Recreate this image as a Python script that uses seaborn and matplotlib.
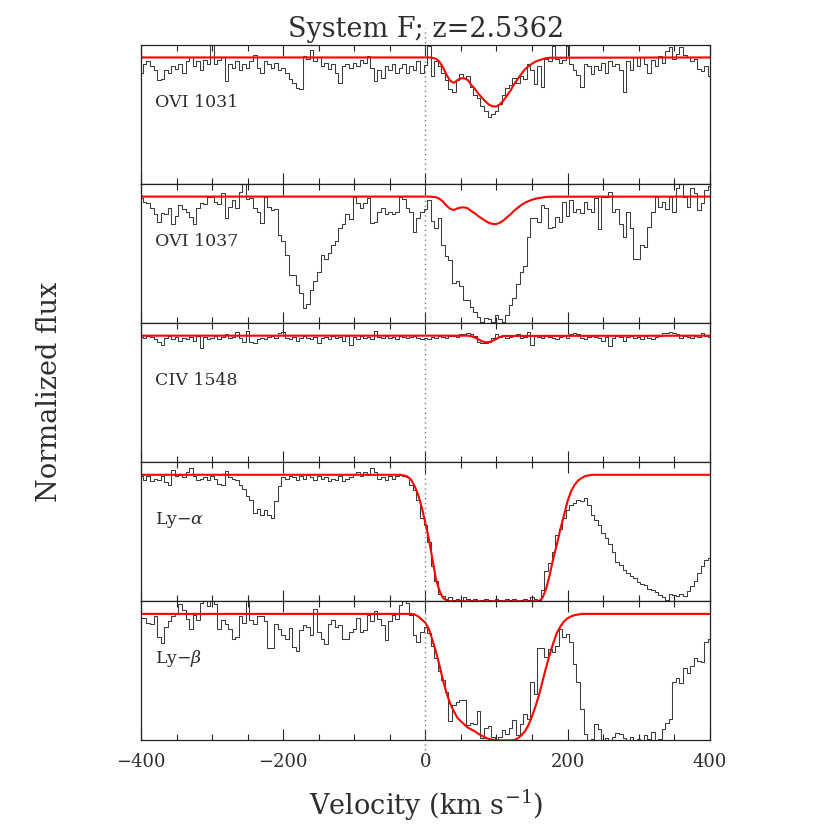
import numpy as np
import matplotlib
matplotlib.use('Agg')
import matplotlib.pyplot as plt
from matplotlib.ticker import MultipleLocator
import seaborn as sns

# velocity grid of the spectra (km/s), one pixel every 5 km/s
velocity = np.arange(-400, 401, 5)

# normalized flux per line (rows of 100 km/s)
ovi1031_flux = [
    0.88, 0.95, 0.97, 0.93, 0.90, 0.82, 0.83, 0.90, 0.88, 0.93, 0.91, 0.95, 0.88, 0.97, 1.00, 0.93, 0.97, 0.90, 0.98, 0.95,
    1.10, 0.95, 0.98, 1.00, 0.81, 0.95, 0.92, 0.97, 0.90, 0.95, 0.92, 0.97, 1.02, 0.92, 0.88, 0.97, 0.95, 0.92, 0.96, 0.90,
    0.92, 0.88, 0.83, 0.80, 0.76, 0.75, 1.01, 0.99, 1.06, 0.97, 1.00, 0.93, 0.96, 0.91, 0.95, 0.88, 0.80, 0.93, 0.95, 0.92,
    0.96, 0.93, 0.98, 0.96, 1.01, 0.92, 0.81, 0.90, 0.84, 0.93, 0.90, 0.95, 0.88, 0.92, 0.95, 0.88, 0.93, 0.90, 0.97, 0.88,
    0.94, 1.09, 0.85, 0.97, 0.93, 0.88, 0.82, 0.75, 0.73, 0.82, 0.87, 0.84, 0.85, 0.77, 0.70, 0.68, 0.62, 0.58, 0.53, 0.55,
    0.58, 0.63, 0.70, 0.76, 0.78, 0.84, 0.80, 0.85, 0.83, 0.95, 0.90, 0.79, 0.93, 0.77, 0.99, 0.97, 1.09, 0.99, 0.96, 0.98,
    1.09, 0.95, 0.90, 0.86, 0.77, 0.95, 0.93, 0.87, 0.93, 0.90, 0.96, 0.88, 0.97, 0.93, 0.95, 0.90, 0.73, 0.97, 0.90, 1.00,
    0.93, 1.00, 0.95, 0.88, 0.98, 0.93, 1.01, 0.96, 1.05, 1.08, 0.99, 1.03, 1.08, 1.02, 1.00, 0.97, 0.99, 0.91, 0.89, 0.93,
    0.85]

ovi1037_flux = [
    0.99, 0.96, 0.95, 0.91, 0.86, 0.80, 0.87, 0.86, 0.91, 0.78, 0.85, 0.93, 0.90, 0.88, 0.84, 0.78, 0.91, 0.95, 0.94, 1.00,
    1.00, 0.96, 0.94, 1.03, 0.83, 0.92, 0.97, 0.91, 1.04, 1.10, 0.98, 0.99, 0.91, 0.88, 0.79, 1.00, 0.92, 0.89, 0.90, 0.70,
    0.645, 0.54, 0.38, 0.38, 0.30, 0.24, 0.12, 0.15, 0.26, 0.33, 0.40, 0.54, 0.51, 0.55, 0.62, 0.645, 0.75, 0.78, 0.86, 0.82,
    1.00, 0.95, 0.91, 0.95, 0.99, 0.79, 0.80, 0.88, 0.91, 0.86, 0.88, 0.86, 0.88, 1.00, 0.98, 0.91, 0.88, 0.72, 0.83, 0.88,
    0.90, 0.97, 0.81, 0.75, 0.83, 0.62, 0.53, 0.50, 0.315, 0.33, 0.29, 0.18, 0.18, 0.13, 0.09, 0.05, 0.01, 0.04, 0.03, 0.01,
    0.06, 0.03, 0.01, 0.06, 0.14, 0.20, 0.31, 0.40, 0.45, 0.68, 0.83, 0.83, 0.80, 0.93, 0.91, 0.75, 0.76, 0.84, 0.80, 0.96,
    0.85, 0.975, 0.88, 0.90, 0.87, 0.96, 0.90, 0.88, 0.99, 0.74, 1.00, 1.00, 1.04, 0.88, 0.90, 0.78, 0.68, 0.88, 0.75, 0.51,
    0.51, 0.62, 0.60, 0.76, 0.88, 1.00, 0.92, 0.96, 0.90, 1.00, 0.88, 1.07, 1.10, 1.00, 0.92, 1.07, 1.03, 0.89, 0.95, 1.05,
    1.08]

civ1548_flux = [
    0.99, 0.98, 1.00, 0.99, 0.97, 0.95, 0.93, 0.98, 1.00, 0.97, 0.99, 0.96, 0.98, 0.97, 0.99, 0.96, 1.00, 0.90, 0.99, 0.97,
    0.98, 1.00, 0.97, 0.99, 1.01, 0.98, 0.99, 1.03, 0.98, 0.95, 1.04, 0.95, 0.94, 0.97, 0.98, 0.97, 0.99, 1.00, 0.98, 1.02,
    1.03, 0.98, 0.97, 0.99, 0.96, 0.98, 1.00, 0.98, 0.97, 0.99, 0.94, 0.98, 0.99, 0.97, 1.00, 0.98, 0.99, 0.96, 1.00, 0.93,
    0.99, 0.97, 1.00, 0.98, 0.99, 0.97, 1.04, 0.99, 0.98, 1.00, 0.98, 0.99, 0.97, 1.00, 0.99, 0.98, 0.99, 1.00, 0.98, 0.97,
    0.98, 0.97, 0.99, 0.98, 1.00, 0.99, 0.98, 1.00, 1.00, 0.99, 1.01, 1.01, 1.02, 1.01, 1.00, 0.95, 0.94, 0.94, 0.95, 0.98,
    1.01, 0.99, 1.00, 0.98, 0.99, 1.00, 1.01, 0.98, 0.99, 1.03, 0.93, 1.00, 0.99, 0.98, 1.00, 0.99, 0.98, 0.97, 0.99, 1.00,
    0.98, 1.01, 1.02, 1.01, 0.98, 0.97, 0.99, 1.00, 0.99, 0.98, 0.96, 0.99, 0.92, 0.98, 1.00, 0.99, 0.96, 0.99, 1.00, 0.98,
    0.99, 0.97, 1.00, 0.98, 0.97, 0.99, 1.00, 1.02, 1.02, 1.03, 1.02, 1.01, 0.98, 1.00, 0.99, 0.98, 1.00, 0.99, 1.02, 1.00,
    0.99]

lya_flux = [
    0.99, 0.96, 0.99, 0.95, 0.97, 0.96, 0.99, 0.94, 0.92, 1.04, 0.99, 1.00, 0.98, 1.02, 1.05, 0.99, 0.96, 0.97, 0.98, 0.96,
    0.99, 0.97, 0.93, 0.92, 1.03, 0.98, 0.97, 0.96, 0.92, 0.89, 0.83, 0.80, 0.70, 0.73, 0.68, 0.72, 0.68, 0.66, 0.79, 0.91,
    0.98, 0.97, 0.99, 0.98, 0.96, 0.99, 0.97, 1.00, 0.98, 0.96, 0.99, 0.97, 0.98, 0.95, 0.97, 0.96, 0.99, 0.95, 0.97, 0.98,
    1.01, 1.02, 0.99, 1.02, 1.00, 1.05, 1.02, 0.97, 0.98, 0.96, 0.99, 0.97, 0.99, 1.00, 0.99, 0.98, 0.92, 0.88, 0.80, 0.66,
    0.60, 0.47, 0.28, 0.16, 0.06, 0.04, 0.02, 0.03, 0.01, 0.02, 0.01, 0.03, 0.02, 0.01, 0.02, 0.00, 0.01, 0.02, 0.01, 0.00,
    0.02, 0.01, 0.00, 0.02, 0.01, 0.02, 0.00, 0.01, 0.02, 0.01, 0.03, 0.02, 0.01, 0.09, 0.24, 0.30, 0.39, 0.52, 0.57, 0.66,
    0.72, 0.76, 0.78, 0.80, 0.79, 0.82, 0.76, 0.68, 0.64, 0.60, 0.54, 0.50, 0.45, 0.39, 0.31, 0.29, 0.25, 0.22, 0.20, 0.18,
    0.15, 0.14, 0.13, 0.10, 0.09, 0.07, 0.05, 0.03, 0.01, 0.06, 0.05, 0.04, 0.06, 0.04, 0.08, 0.12, 0.16, 0.22, 0.28, 0.33,
    0.34]

lyb_flux = [
    0.97, 0.97, 0.93, 0.92, 0.98, 0.82, 0.77, 0.90, 0.94, 0.98, 1.00, 1.08, 1.03, 0.96, 0.88, 0.99, 0.95, 1.09, 1.10, 1.06,
    1.10, 1.08, 0.88, 0.95, 0.92, 0.88, 0.80, 0.82, 0.98, 0.93, 1.10, 0.95, 0.92, 0.98, 0.98, 0.94, 0.73, 0.73, 0.92, 0.88,
    0.83, 0.80, 0.89, 0.74, 0.71, 0.87, 0.91, 0.90, 0.83, 1.04, 0.86, 0.80, 0.76, 0.92, 0.95, 0.90, 0.91, 0.80, 0.80, 0.86,
    0.88, 0.97, 0.86, 0.87, 0.99, 0.94, 1.02, 0.96, 0.91, 0.79, 0.94, 0.99, 0.96, 1.07, 1.10, 1.09, 0.99, 0.83, 0.78, 0.86,
    0.90, 0.85, 0.75, 0.65, 0.55, 0.48, 0.38, 0.15, 0.28, 0.30, 0.32, 0.32, 0.12, 0.14, 0.13, 0.23, 0.02, 0.10, 0.11, 0.03,
    0.00, 0.03, 0.08, 0.05, 0.10, 0.16, 0.04, 0.13, 0.21, 0.17, 0.46, 0.37, 0.73, 0.73, 0.66, 0.72, 0.70, 0.75, 0.88, 0.82,
    0.84, 0.78, 0.60, 0.46, 0.25, 0.05, 0.00, 0.01, 0.13, 0.09, 0.00, 0.02, 0.00, 0.03, 0.06, 0.05, 0.02, 0.00, 0.03, 0.00,
    0.01, 0.00, 0.04, 0.01, 0.07, 0.00, 0.01, 0.09, 0.14, 0.17, 0.46, 0.49, 0.45, 0.57, 0.53, 0.59, 0.65, 0.63, 0.62, 0.78,
    0.80]

# fitted model profiles (velocity knots, flux)
ovi_model_v = [-400, 5, 10, 15, 20, 25, 30, 35, 40, 45, 50, 55, 60, 65, 70, 75, 80, 85, 90, 95,
               100, 105, 110, 115, 120, 125, 130, 135, 140, 145, 150, 155, 160, 165, 170, 175, 400]
ovi1031_model = [1.0, 1.0, 0.997, 0.99, 0.965, 0.92, 0.86, 0.815, 0.80, 0.82, 0.835, 0.835, 0.82, 0.78, 0.75, 0.71,
                 0.68, 0.65, 0.625, 0.613, 0.613, 0.63, 0.66, 0.70, 0.74, 0.79, 0.83, 0.87, 0.905, 0.93, 0.95, 0.967,
                 0.978, 0.987, 0.994, 0.998, 1.0]
ovi1037_model = [1.0, 1.0, 0.998, 0.995, 0.982, 0.959, 0.927, 0.903, 0.894, 0.906, 0.914, 0.914, 0.906, 0.883, 0.866,
                 0.843, 0.825, 0.806, 0.791, 0.783, 0.783, 0.794, 0.812, 0.837, 0.860, 0.889, 0.911, 0.933, 0.951,
                 0.964, 0.975, 0.983, 0.989, 0.993, 0.997, 0.999, 1.0]

civ_model_v = [-400, 60, 65, 70, 75, 80, 85, 90, 95, 100, 105, 110, 400]
civ1548_model = [1.0, 1.0, 0.995, 0.985, 0.97, 0.955, 0.948, 0.95, 0.96, 0.975, 0.99, 0.998, 1.0]

lya_model_v = [-400, -35, -30, -25, -20, -15, -10, -5, 0, 5, 10, 15, 20, 25, 30, 35,
               160, 165, 170, 175, 180, 185, 190, 195, 200, 205, 210, 215, 220, 225, 230, 235, 400]
lya_model = [1.0, 1.0, 0.995, 0.985, 0.96, 0.91, 0.84, 0.74, 0.62, 0.49, 0.33, 0.17, 0.08, 0.025, 0.007, 0.0,
             0.0, 0.03, 0.10, 0.21, 0.34, 0.45, 0.57, 0.68, 0.79, 0.87, 0.92, 0.955, 0.975, 0.99, 0.995, 1.0, 1.0]

lyb_model_v = [-400, -20, -15, -10, -5, 0, 5, 10, 15, 20, 25, 30, 35, 40, 45, 50, 55, 60, 65, 70, 75, 80, 85, 90, 95,
               100, 120, 125, 130, 135, 140, 145, 150, 155, 160, 165, 170, 175, 180, 185, 190, 195, 200, 205, 210,
               215, 220, 400]
lyb_model = [1.0, 1.0, 0.995, 0.98, 0.955, 0.93, 0.88, 0.79, 0.70, 0.59, 0.47, 0.37, 0.29, 0.23, 0.18, 0.15, 0.125,
             0.10, 0.085, 0.07, 0.05, 0.035, 0.02, 0.01, 0.005, 0.0, 0.0, 0.003, 0.015, 0.04, 0.07, 0.12, 0.19, 0.27,
             0.36, 0.47, 0.58, 0.68, 0.77, 0.85, 0.90, 0.94, 0.965, 0.98, 0.99, 0.995, 1.0, 1.0]

line_names = ['OVI 1031', 'OVI 1037', 'CIV 1548', r'Ly$-\alpha$', r'Ly$-\beta$']

panels = [
    (line_names[0], ovi1031_flux, ovi_model_v, ovi1031_model),
    (line_names[1], ovi1037_flux, ovi_model_v, ovi1037_model),
    (line_names[2], civ1548_flux, civ_model_v, civ1548_model),
    (line_names[3], lya_flux, lya_model_v, lya_model),
    (line_names[4], lyb_flux, lyb_model_v, lyb_model),
]

sns.set_style('ticks')
plt.rcParams['font.family'] = ['DejaVu Serif']
plt.rcParams['mathtext.fontset'] = 'dejavuserif'
text_color = '#2e2e2e'

fig, axes = plt.subplots(5, 1, figsize=(8.3, 8.3), dpi=100, sharex=True)
fig.subplots_adjust(left=0.170, right=0.855, bottom=0.108, top=0.946, hspace=0)

for i, (ax, (name, flux, mv, mf)) in enumerate(zip(axes, panels)):
    assert len(flux) == len(velocity), name
    assert len(mv) == len(mf), name
    sns.lineplot(x=velocity, y=flux, ax=ax, color='#3c3c3c', lw=0.75,
                 drawstyle='steps-mid', estimator=None)
    sns.lineplot(x=mv, y=mf, ax=ax, color='red', lw=1.5, estimator=None)

    # dotted line at the systemic velocity
    y0 = -0.07 if i == 4 else 0
    y1 = 1.12 if i == 0 else 1
    ax.axvline(0, ymin=y0, ymax=y1, color='#777777', ls=(0, (1, 2.5)), lw=1, clip_on=False)

    ax.set_xlim(-400, 400)
    ax.set_ylim(0, 1.1)
    ax.set_yticks([])
    ax.set_xlabel('')
    ax.set_ylabel('')
    ax.xaxis.set_major_locator(MultipleLocator(200))
    ax.xaxis.set_minor_locator(MultipleLocator(50))
    ax.tick_params(axis='x', which='both', direction='in', top=True, bottom=True,
                   width=0.8, color='#222222')
    ax.tick_params(axis='x', which='major', length=8, pad=9, labelsize=13, labelcolor=text_color)
    ax.tick_params(axis='x', which='minor', length=4)
    for sp in ax.spines.values():
        sp.set_linewidth(0.9)
        sp.set_color('#222222')
    ax.text(0.025, 0.585, name, transform=ax.transAxes, fontsize=12.5,
            color=text_color, va='center', ha='left')

fig.text(0.513, 0.964, 'System F; z=2.5362', ha='center', va='center', fontsize=19.5, color=text_color)
fig.text(0.060, 0.528, 'Normalized flux', ha='center', va='center', rotation=90,
         fontsize=19.5, color=text_color)
fig.text(0.513, 0.030, r'Velocity (km s$^{-1}$)', ha='center', va='center',
         fontsize=19.5, color=text_color)

plt.savefig('out.png', dpi=100)
